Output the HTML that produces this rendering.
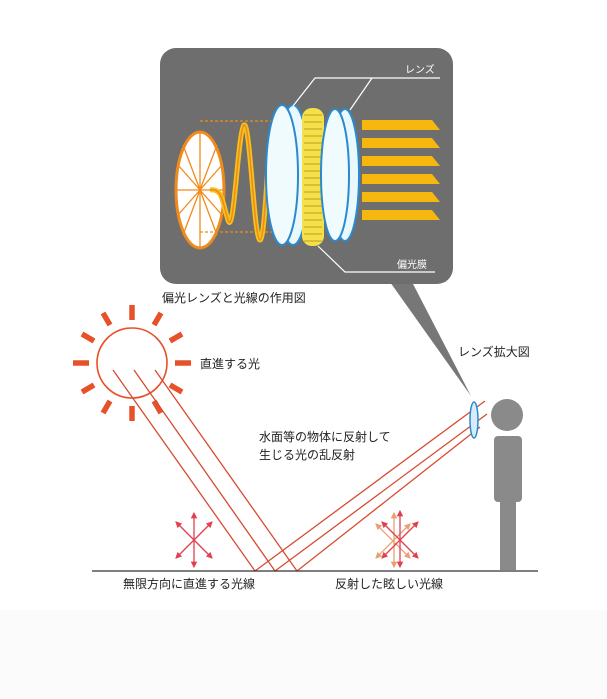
<!DOCTYPE html><html><head><meta charset="utf-8"><style>body{margin:0;background:#fff}svg{display:block}text{font-family:"Liberation Sans","Noto Sans CJK JP",sans-serif;font-size:12px;fill:#222}</style></head><body>
<svg width="607" height="699" viewBox="0 0 607 699">
<defs>
<marker id="a" viewBox="0 0 6 6" refX="5" refY="3" markerWidth="5" markerHeight="5" orient="auto-start-reverse"><path d="M0,0L6,3L0,6z" fill="#e04050"/></marker>
<marker id="b" viewBox="0 0 6 6" refX="5" refY="3" markerWidth="5" markerHeight="5" orient="auto-start-reverse"><path d="M0,0L6,3L0,6z" fill="#e8a070"/></marker>
</defs>
<rect width="607" height="699" fill="#fff"/>
<rect x="0" y="610" width="607" height="89" fill="#fbfbfb"/>
<polygon points="390,282 412,282 471,396" fill="#777"/>
<rect x="160" y="48" width="293" height="236" rx="16" fill="#6e6e6e"/>
<ellipse cx="200" cy="190" rx="24" ry="58" fill="#fff" stroke="#f08a1c" stroke-width="3"/>
<g stroke="#f08a1c" stroke-width="1.3">
<line x1="200" y1="132" x2="200" y2="248"/><line x1="176" y1="190" x2="224" y2="190"/>
<line x1="183" y1="145" x2="217" y2="235"/><line x1="217" y1="145" x2="183" y2="235"/>
<line x1="178" y1="165" x2="222" y2="215"/><line x1="222" y1="165" x2="178" y2="215"/>
</g>
<g stroke="#f08a1c" stroke-dasharray="3,2" stroke-width="1.2"><line x1="200" y1="121" x2="285" y2="121"/><line x1="200" y1="232" x2="285" y2="232"/></g>
<path d="M210,190 C222,188 222,200 228,220 C234,240 238,130 244,125 C250,120 254,240 260,240 C266,240 268,120 274,125 C280,130 276,180 286,184" fill="none" stroke="#f6c21a" stroke-width="5"/>
<path d="M210,190 C222,188 222,200 228,220 C234,240 238,130 244,125 C250,120 254,240 260,240 C266,240 268,120 274,125 C280,130 276,180 286,184" fill="none" stroke="#f08a1c" stroke-width="1.5"/>
<polygon points="282,178 294,185 282,192" fill="#f08a1c"/>
<ellipse cx="293" cy="175" rx="16" ry="70" fill="#e8f8fc" stroke="#2a8ad0" stroke-width="2"/>
<ellipse cx="282" cy="175" rx="16" ry="70" fill="#f0fbfe" stroke="#2a8ad0" stroke-width="2"/>
<rect x="302" y="108" width="22" height="138" rx="10" fill="#f5e04a"/>
<g stroke="#b8a020" stroke-width="1"><path d="M304,115h18M304,122h18M304,129h18M304,136h18M304,143h18M304,150h18M304,157h18M304,164h18M304,171h18M304,178h18M304,185h18M304,192h18M304,199h18M304,206h18M304,213h18M304,220h18M304,227h18M304,234h18M304,241h18"/></g>
<ellipse cx="345" cy="175" rx="14" ry="66" fill="#e8f8fc" stroke="#2a8ad0" stroke-width="2"/>
<ellipse cx="335" cy="175" rx="14" ry="66" fill="#f0fbfe" stroke="#2a8ad0" stroke-width="2"/>
<g fill="#f6b80e">
<polygon points="362,120 432,120 440,130 362,130"/><polygon points="362,138 432,138 440,148 362,148"/><polygon points="362,156 432,156 440,166 362,166"/><polygon points="362,174 432,174 440,184 362,184"/><polygon points="362,192 432,192 440,202 362,202"/><polygon points="362,210 432,210 440,220 362,220"/>
</g>
<g fill="none" stroke="#fff" stroke-width="1.2"><polyline points="293,106 315,78 440,78"/><polyline points="350,110 372,78"/><polyline points="318,246 345,272 435,272"/></g>
<text x="405" y="73" style="fill:#fff;font-size:10px">レンズ</text>
<text x="397" y="268" style="fill:#fff;font-size:10px">偏光膜</text>
<text x="162" y="302">偏光レンズと光線の作用図</text>
<circle cx="132" cy="363" r="35" fill="none" stroke="#e8502a" stroke-width="1.6"/>
<g stroke="#e8502a" stroke-width="5.5">
<line x1="132" y1="305" x2="132" y2="320"/><line x1="132" y1="406" x2="132" y2="421"/><line x1="73" y1="363" x2="89" y2="363"/><line x1="175" y1="363" x2="191" y2="363"/>
<line x1="103" y1="313" x2="110" y2="325"/><line x1="161" y1="313" x2="154" y2="325"/><line x1="103" y1="413" x2="110" y2="401"/><line x1="161" y1="413" x2="154" y2="401"/>
<line x1="82" y1="334" x2="94" y2="341"/><line x1="182" y1="334" x2="170" y2="341"/><line x1="82" y1="392" x2="94" y2="385"/><line x1="182" y1="392" x2="170" y2="385"/>
</g>
<g stroke="#d84a30" stroke-width="1.3" fill="none">
<polyline points="113,370 255,571 485,401"/><polyline points="134,370 275,571 487,414"/><polyline points="155,370 297,571 480,427"/>
</g>
<ellipse cx="474" cy="420" rx="4" ry="18" fill="#d8ecf8" stroke="#2a8ad0" stroke-width="1.5"/>
<circle cx="507" cy="415" r="16" fill="#8a8a8a"/>
<rect x="494" y="436" width="28" height="66" rx="4" fill="#8a8a8a"/>
<rect x="500" y="495" width="16" height="75" fill="#8a8a8a"/>
<line x1="92" y1="571" x2="538" y2="571" stroke="#333" stroke-width="1.3"/>
<g stroke="#e04050" stroke-width="1.3" marker-start="url(#a)" marker-end="url(#a)"><line x1="194" y1="513" x2="194" y2="567"/><line x1="176" y1="522" x2="212" y2="558"/><line x1="212" y1="522" x2="176" y2="558"/></g>
<g stroke="#e8a070" stroke-width="1.3" marker-start="url(#b)" marker-end="url(#b)"><line x1="394" y1="513" x2="394" y2="567"/><line x1="376" y1="524" x2="410" y2="558"/><line x1="410" y1="524" x2="376" y2="558"/></g>
<g stroke="#e04050" stroke-width="1.3" marker-start="url(#a)" marker-end="url(#a)"><line x1="400" y1="511" x2="400" y2="567"/><line x1="382" y1="522" x2="418" y2="558"/><line x1="418" y1="522" x2="382" y2="558"/></g>
<text x="200" y="368">直進する光</text>
<text x="458" y="356">レンズ拡大図</text>
<text x="259" y="441">水面等の物体に反射して</text>
<text x="259" y="459">生じる光の乱反射</text>
<text x="123" y="588">無限方向に直進する光線</text>
<text x="335" y="588">反射した眩しい光線</text>
</svg></body></html>
